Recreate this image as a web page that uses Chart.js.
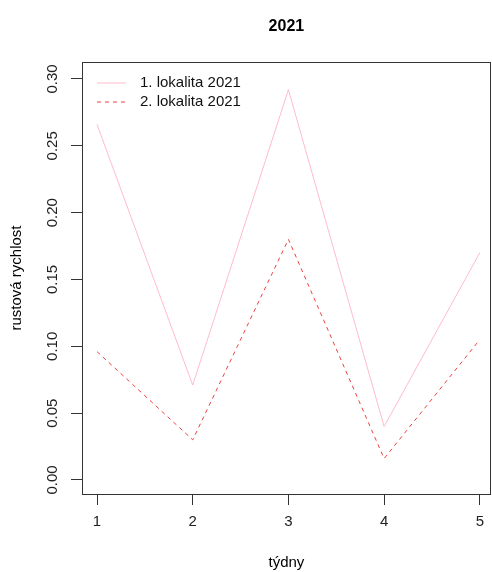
<!DOCTYPE html>
<html>
<head>
<meta charset="utf-8">
<script src="https://cdn.jsdelivr.net/npm/chart.js@4"></script>
<style>
  html, body { margin: 0; padding: 0; background: #fff; }
</style>
</head>
<body>
<canvas id="chart" width="492" height="572"></canvas>
<script>
// data
var weeks = [1, 2, 3, 4, 5];
var site1 = [0.266, 0.071, 0.292, 0.040, 0.170];
var site2 = [0.096, 0.030, 0.180, 0.016, 0.105];
var yTicks = [0.00, 0.05, 0.10, 0.15, 0.20, 0.25, 0.30];
var seriesNames = ['1. lokalita 2021', '2. lokalita 2021'];

var FONT = '"Liberation Sans", Arial, sans-serif';
var PINK = '#ffbcc8';
var RED = 'rgb(238,64,64)';

function points(ys) {
    return weeks.map(function (w, i) { return { x: w, y: ys[i] }; });
}

// box, rotated y labels, titles and legend drawn like base R
var rStyle = {
    id: 'rStyle',
    afterDraw: function (chart) {
        var c = chart.ctx, a = chart.chartArea, ys = chart.scales.y;
        c.save();
        c.strokeStyle = '#333';
        c.lineWidth = 1;
        c.strokeRect(Math.round(a.left) + 0.5, Math.round(a.top) + 0.5,
            Math.round(a.right - a.left) - 1, Math.round(a.bottom - a.top));

        c.fillStyle = '#222';
        c.font = '15px ' + FONT;
        c.textAlign = 'center';
        c.textBaseline = 'middle';
        yTicks.forEach(function (v) {
            c.save();
            c.translate(53, ys.getPixelForValue(v));
            c.rotate(-Math.PI / 2);
            c.fillText(v.toFixed(2), 0, 0);
            c.restore();
        });

        c.fillStyle = '#000';
        c.save();
        c.translate(17, (a.top + a.bottom) / 2);
        c.rotate(-Math.PI / 2);
        c.fillText('rustová rychlost', 0, 0);
        c.restore();
        c.fillText('týdny', (a.left + a.right) / 2, 563);

        c.font = 'bold 16px ' + FONT;
        c.fillText('2021', (a.left + a.right) / 2, 27);

        // legend
        c.font = '15px ' + FONT;
        c.textAlign = 'left';
        var rows = [
            { y: 83, color: PINK, dash: [] },
            { y: 102, color: RED, dash: [4, 4] }
        ];
        rows.forEach(function (r, i) {
            c.strokeStyle = r.color;
            c.setLineDash(r.dash);
            c.beginPath();
            c.moveTo(97, r.y);
            c.lineTo(126, r.y);
            c.stroke();
            c.setLineDash([]);
            c.fillStyle = '#111';
            c.fillText(seriesNames[i], 140, r.y);
        });
        c.restore();
    }
};

new Chart(document.getElementById('chart').getContext('2d'), {
    type: 'line',
    data: {
        datasets: [{
            label: seriesNames[0],
            data: points(site1),
            borderColor: PINK,
            borderWidth: 1,
            pointRadius: 0,
            tension: 0
        }, {
            label: seriesNames[1],
            data: points(site2),
            borderColor: RED,
            borderWidth: 1,
            borderDash: [4, 4],
            pointRadius: 0,
            tension: 0
        }]
    },
    options: {
        responsive: false,
        animation: false,
        layout: { padding: { top: 62, right: 1, left: 0, bottom: 0 } },
        plugins: {
            legend: { display: false },
            tooltip: { enabled: false }
        },
        scales: {
            x: {
                type: 'linear',
                min: 0.843,
                max: 5.115,
                afterBuildTicks: function (s) {
                    s.ticks = weeks.map(function (w) { return { value: w }; });
                },
                afterFit: function (s) { s.height = 78; },
                border: { display: false },
                grid: { drawOnChartArea: false, drawTicks: true, tickLength: 11, color: '#333' },
                ticks: {
                    color: '#222',
                    font: { family: FONT, size: 15 },
                    padding: 8,
                    maxRotation: 0,
                    callback: function (v) { return String(v); }
                }
            },
            y: {
                type: 'linear',
                min: -0.0105,
                max: 0.3127,
                afterBuildTicks: function (s) {
                    s.ticks = yTicks.map(function (v) { return { value: v }; });
                },
                afterFit: function (s) { s.width = 82; },
                border: { display: false },
                grid: { drawOnChartArea: false, drawTicks: true, tickLength: 11, color: '#333' },
                ticks: { display: false }
            }
        }
    },
    plugins: [rStyle]
});
</script>
</body>
</html>
